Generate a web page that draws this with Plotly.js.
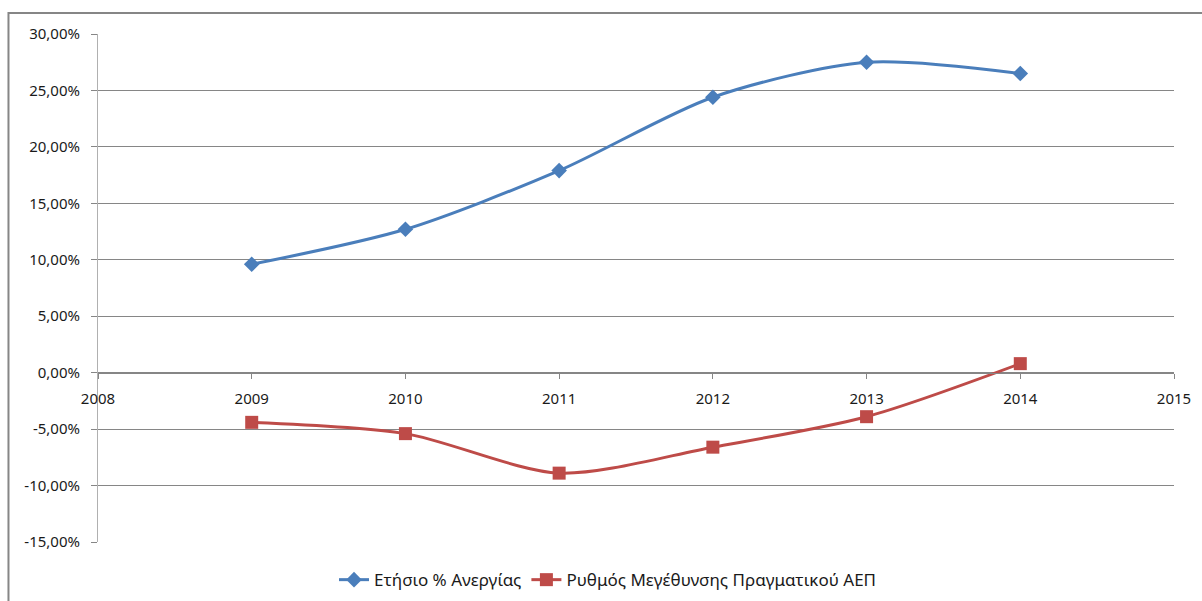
<!DOCTYPE html>
<html>
<head>
<meta charset="utf-8">
<script src="https://cdn.plot.ly/plotly-3.0.1.min.js"></script>
<style>html,body{margin:0;padding:0;background:#fff;}#chart{width:1202px;height:601px;}</style>
</head>
<body>
<div id="chart"></div>
<script>
const years = [2009, 2010, 2011, 2012, 2013, 2014];
const unemployment = [9.6, 12.7, 17.9, 24.4, 27.5, 26.5];
const gdpGrowth = [-4.4, -5.4, -8.9, -6.6, -3.9, 0.8];
const seriesNames = ["Ετήσιο % Ανεργίας", "Ρυθμός Μεγέθυνσης Πραγματικού ΑΕΠ"];
const yTickVals = [30, 25, 20, 15, 10, 5, 0, -5, -10, -15];
const yTickText = ["30,00%", "25,00%", "20,00%", "15,00%", "10,00%", "5,00%", "0,00%", "-5,00%", "-10,00%", "-15,00%"];
const xTickVals = [2008, 2009, 2010, 2011, 2012, 2013, 2014, 2015];

const font = {family: "Noto Sans, DejaVu Sans, sans-serif", size: 15, color: "#1a1a1a"};
const legendFont = {family: "Noto Sans, DejaVu Sans, sans-serif", size: 17, color: "#1a1a1a"};

const traces = [
  {x: years, y: unemployment, name: seriesNames[0], type: "scatter", mode: "lines+markers",
   line: {color: "#4a7ebb", width: 3, shape: "spline", smoothing: 0.8},
   marker: {symbol: "diamond", size: 12, color: "#4a7ebb"}},
  {x: years, y: gdpGrowth, name: seriesNames[1], type: "scatter", mode: "lines+markers",
   line: {color: "#be4b48", width: 3, shape: "spline", smoothing: 0.8},
   marker: {symbol: "square", size: 13, color: "#be4b48"}}
];

const layout = {
  width: 1202, height: 601,
  margin: {l: 98, r: 28, t: 34, b: 59, autoexpand: false},
  paper_bgcolor: "#ffffff", plot_bgcolor: "#ffffff",
  font: font,
  showlegend: true,
  legend: {orientation: "h", x: 0.474, y: -0.075, xanchor: "center", yanchor: "middle",
           font: legendFont, itemwidth: 30, tracegroupgap: 0},
  xaxis: {range: [2008, 2015], tickvals: xTickVals, ticktext: xTickVals.map(String),
          showgrid: false, zeroline: false, showline: true, linecolor: "#868686", linewidth: 1,
          ticks: "outside", ticklen: 5, tickcolor: "#868686", ticklabelstandoff: 7,
          anchor: "free", position: 1/3, tickfont: font, fixedrange: true},
  yaxis: {range: [-15, 30], tickvals: yTickVals, ticktext: yTickText,
          showgrid: true, gridcolor: "#868686", gridwidth: 1, zeroline: false,
          showline: true, linecolor: "#b0b0b0", linewidth: 1, ticklabelstandoff: 8,
          ticks: "outside", ticklen: 6, tickcolor: "#868686", tickfont: font, fixedrange: true},
  shapes: [
    {type: "rect", xref: "paper", yref: "paper",
     x0: -0.0832, x1: 1.05, y0: -0.13, y1: 1.0413,
     line: {color: "#868686", width: 2}, fillcolor: "rgba(0,0,0,0)", layer: "below"}
  ]
};

Plotly.newPlot("chart", traces, layout, {staticPlot: true, displayModeBar: false});
</script>
</body>
</html>
